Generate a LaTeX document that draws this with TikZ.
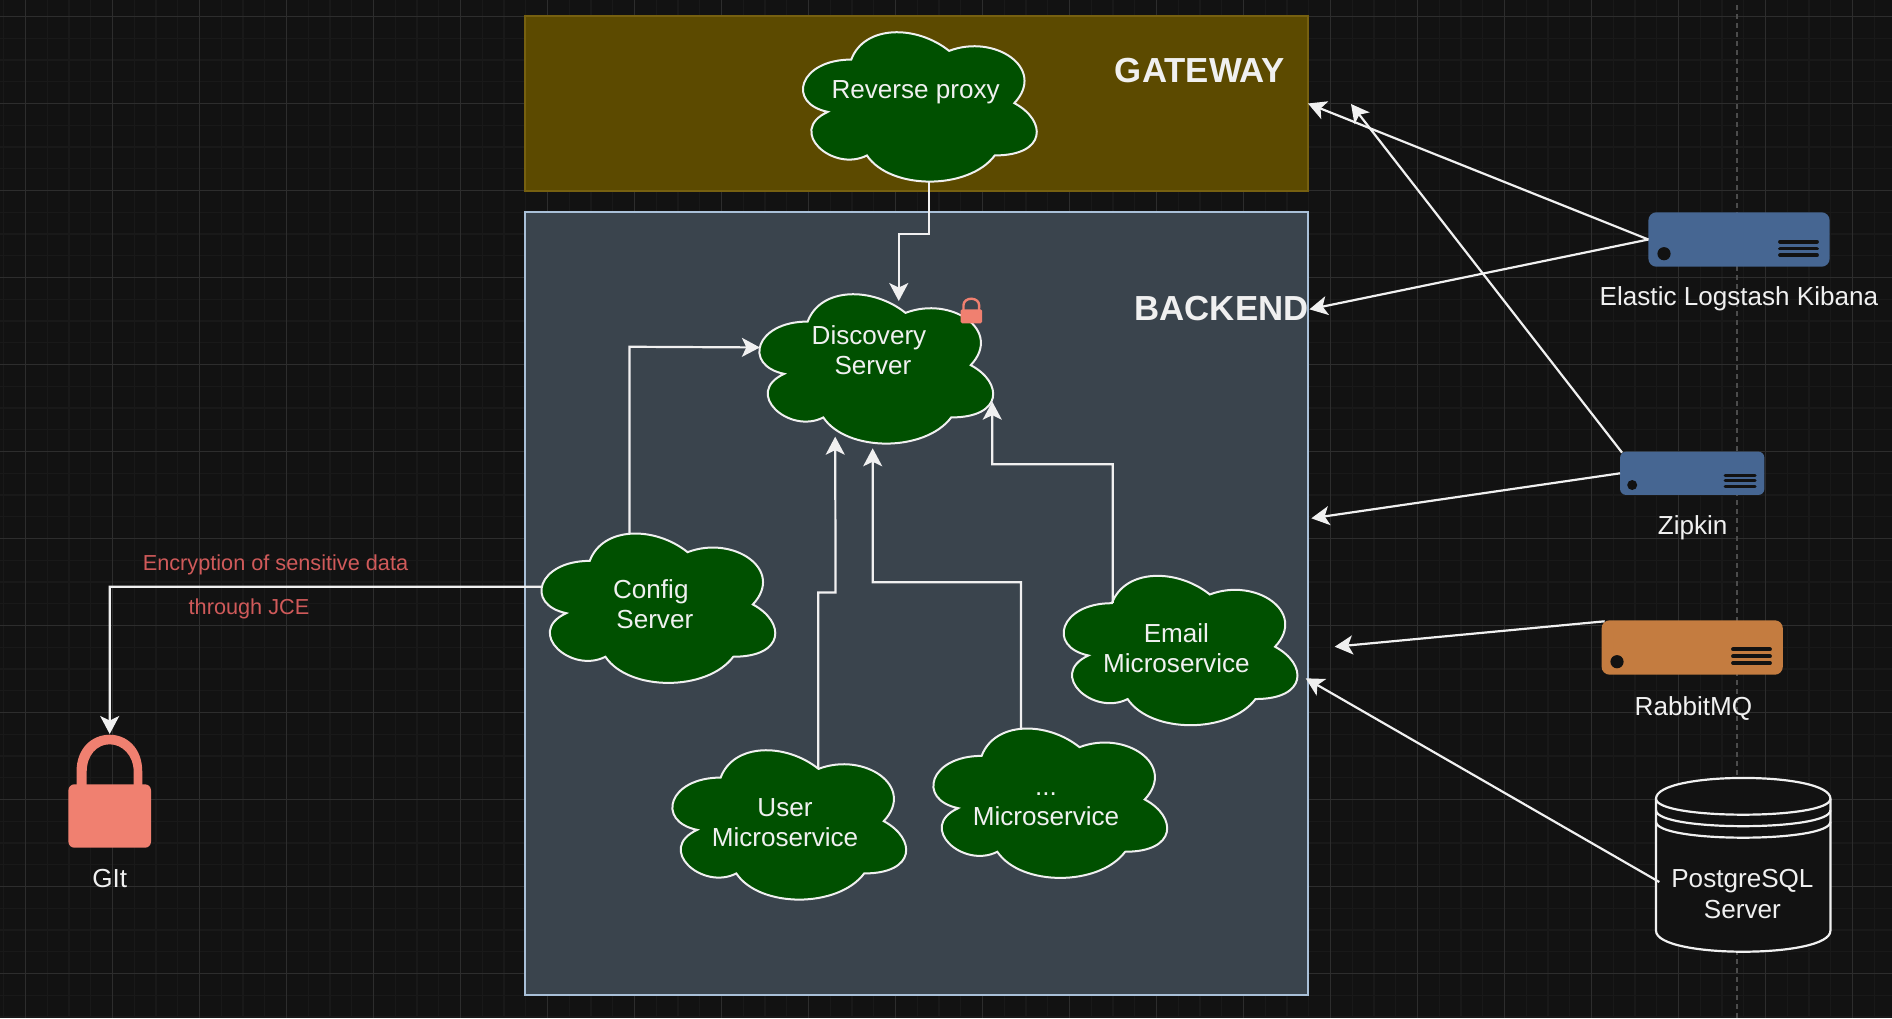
\documentclass[tikz,border=0pt]{standalone}
\usepackage{fontspec}
\setmainfont{Liberation Sans}
\usetikzlibrary{arrows.meta,calc}
\definecolor{bgc}{HTML}{121212}
\definecolor{gridmaj}{HTML}{2D2D2D}
\definecolor{gridmin}{HTML}{191919}
\definecolor{dashc}{HTML}{4C4C4C}
\definecolor{gwfill}{HTML}{5C4A00}
\definecolor{gwline}{HTML}{766010}
\definecolor{befill}{HTML}{3A444D}
\definecolor{beline}{HTML}{A9C0D8}
\definecolor{cloudfill}{HTML}{005000}
\definecolor{txt}{HTML}{F0F0F0}
\definecolor{srvblue}{HTML}{466692}
\definecolor{srvorange}{HTML}{C47C40}
\definecolor{lockc}{HTML}{F08070}
\definecolor{redtxt}{HTML}{D05A5A}
\tikzset{
  x=1pt,y=-1pt,
  every node/.style={inner sep=0pt,outer sep=0pt},
  zone/.style={draw,line width=2pt,minimum width=783pt},
  cloudshape/.style={fill=cloudfill,draw=txt,line width=2pt},
  cloudbox/.style={minimum width=261pt,minimum height=174pt},
  lbl/.style={text=txt,font=\fontsize{26.1pt}{30.2pt}\selectfont,align=center},
  zonelbl/.style={text=txt,font=\fontsize{34.8pt}{40pt}\selectfont\bfseries},
  redlbl/.style={text=redtxt,font=\fontsize{21.7pt}{26pt}\selectfont},
  conn/.style={draw=txt,line width=2.2pt,-{Stealth[length=18pt,width=19pt,inset=4.5pt]}},
  srv/.style={rounded corners=8pt},
  bars/.style={draw=bgc,line cap=round},
  dbline/.style={draw=txt,line width=2.2pt}
}
\newcommand{\cloudat}[6]{% name, x0, y0, text x, text y, text
  \begin{scope}[shift={(#2,#3)},xscale=.996,yscale=.996]
    \path[cloudshape] (65.5,43.75)
      .. controls (13.1,43.75) and (0,87.5) .. (41.92,96.25)
      .. controls (0,115.5) and (47.16,157.5) .. (81.22,140)
      .. controls (104.8,175) and (183.4,175) .. (209.6,140)
      .. controls (262,140) and (262,105) .. (229.25,87.5)
      .. controls (262,52.5) and (209.6,17.5) .. (163.75,35)
      .. controls (131,8.75) and (78.6,8.75) .. (65.5,43.75) -- cycle;
    \node[cloudbox] (#1) at (131,87.5) {};
  \end{scope}
  \node[lbl] (#1t) at (#4,#5) {#6};
}
\begin{document}
\begin{tikzpicture}
\useasboundingbox (0,0) rectangle (1892,1018);
\begin{scope}
\clip (0,0) rectangle (1892,1018);
\fill[bgc] (0,0) rectangle (1892,1018);
\foreach \k in {0,...,87} {
  \draw[gridmin,line width=1.4pt] ({3.75+21.75*\k},0) -- ({3.75+21.75*\k},1018);
}
\foreach \k in {0,...,47} {
  \draw[gridmin,line width=1.4pt] (0,{-5.25+21.75*\k}) -- (1892,{-5.25+21.75*\k});
}
\foreach \k in {0,...,21} {
  \draw[gridmaj,line width=1pt] ({25.5+87*\k},0) -- ({25.5+87*\k},1018);
}
\foreach \k in {0,...,11} {
  \draw[gridmaj,line width=1pt] (0,{16.5+87*\k}) -- (1892,{16.5+87*\k});
}
\draw[dashc,line width=1.2pt,dash pattern=on 5pt off 4pt] (1737,5) -- (1737,1018);
\end{scope}

% zones
\node[zone,fill=gwfill,draw=gwline,minimum height=175pt] (gw) at (916.5,103.5) {};
\node[zone,fill=befill,draw=beline,minimum height=783pt] (be) at (916.5,603.5) {};
\node[zonelbl] (gwl) at (1200,70.5) {GATEWAY};
\node[zonelbl] (bel) at (1221.5,309) {BACKEND};

% clouds
\cloudat{rev}{786}{16}{915.7}{92}{Reverse proxy}
\cloudat{disc}{742.4}{278}{873}{350}{Discovery\kern8pt\hbox{}\\Server}
\cloudat{conf}{524.5}{517.3}{654.8}{604.5}{Config\kern8pt\hbox{}\\Server}
\cloudat{user}{655.4}{734}{785}{822.5}{User\\Microservice}
\cloudat{dots}{916.4}{712.3}{1046}{809.5}{...\\Microservice}
\cloudat{email}{1046.7}{559.6}{1176.4}{648.5}{Email\\Microservice}

% small lock on the discovery server
\node[fill=lockc,rounded corners=1.5pt,minimum width=21.5pt,minimum height=14pt] (slock) at (971.3,316.3) {};
\draw[lockc,line width=2.4pt] (963.5,310) -- (963.5,305) arc[start angle=180,end angle=0,x radius=7.8pt,y radius=6.3pt] -- (979,310);

% big lock
\node[fill=lockc,rounded corners=6pt,minimum width=82.6pt,minimum height=63.4pt] (git) at (109.7,816) {};
\fill[lockc,even odd rule] (76.5,786) -- (76.5,772) .. controls (76.5,747) and (93,734.7) .. (109.7,734.7) .. controls (126,734.7) and (142.3,747) .. (142.3,772) -- (142.3,786) -- (133.7,786) -- (133.7,772) .. controls (133.7,755) and (122,744.3) .. (109.7,744.3) .. controls (97,744.3) and (86.7,755) .. (86.7,772) -- (86.7,786) -- cycle;
\node[lbl] (gitl) at (109.7,878.5) {GIt};

% servers
\node[srv,fill=srvblue,minimum width=181.2pt,minimum height=54.4pt] (elk) at (1739,239.5) {};
\fill[bgc] (1664,253.7) circle[radius=6.6pt];
\foreach \yy in {241.7,248.5,255.2} \draw[bars,line width=3.8pt] (1780,\yy) -- (1817,\yy);
\node[lbl] (elkl) at (1739,299) {Elastic Logstash Kibana};

\node[srv,rounded corners=6pt,fill=srvblue,minimum width=144.3pt,minimum height=43.3pt] (zip) at (1692.2,473.3) {};
\fill[bgc] (1632.2,485) circle[radius=5pt];
\foreach \yy in {475,480.3,486} \draw[bars,line width=3pt] (1725,\yy) -- (1755,\yy);
\node[lbl] (zipl) at (1692.6,527.5) {Zipkin};

\node[srv,fill=srvorange,minimum width=181.2pt,minimum height=54.4pt] (mq) at (1692.2,647.5) {};
\fill[bgc] (1617,661.7) circle[radius=6.6pt];
\foreach \yy in {649.3,656.3,663} \draw[bars,line width=3.8pt] (1733,\yy) -- (1770,\yy);
\node[lbl] (mql) at (1693.4,708.5) {RabbitMQ};

% database
\path[dbline,fill=bgc] (1656,798.7) .. controls (1656,771) and (1830.4,771) .. (1830.4,798.7)
  -- (1830.4,930.7) .. controls (1830.4,958.7) and (1656,958.7) .. (1656,930.7) -- cycle;
\draw[dbline] (1656,798.7) .. controls (1656,820) and (1830.4,820) .. (1830.4,798.7);
\draw[dbline] (1656,810.2) .. controls (1656,831.5) and (1830.4,831.5) .. (1830.4,810.2);
\draw[dbline] (1656,821.7) .. controls (1656,843) and (1830.4,843) .. (1830.4,821.7);
\node[lbl] (pg) at (1742.4,894) {PostgreSQL\\Server};

% red labels
\node[redlbl] (enc) at (275.5,564.5) {Encryption of sensitive data};
\node[redlbl] (jce) at (249,609) {through JCE};

% connectors
\draw[conn] ($(rev.center)+(12.9,78.4)$) -- ++(0,52.3) -- ++(-30.6,0) -- ($(disc.center)+(25.9,-64.1)$);
\draw[conn] ($(conf.center)+(-25.5,-71.7)$) -- ++(0,-186) -- ($(disc.center)+(-113,-17.7)$);
\draw[conn] ($(user.center)+(32.3,-53.2)$) -- ++(0,-175.4) -- ++(17.4,0) -- ($(disc.center)+(-37.7,71.5)$);
\draw[conn] ($(dots.center)+(-25.9,-71.5)$) -- ++(0,-145.7) -- ++(-148.2,0) -- ($(disc.center)+(-0.2,83.1)$);
\draw[conn] ($(email.center)+(-64.5,-43.8)$) -- ++(0,-138.7) -- ++(-120.4,0) -- ($(disc.center)+(119.4,36.5)$);
\draw[conn] ($(conf.center)+(-114.2,-17.7)$) -- ++(-431,0) -- (git.north |- 0,734);
\draw[conn] (elk.west) -- (gw.east);
\draw[conn] (elk.west) -- ($(be.east)+(1.4,-294.2)$);
\coordinate (zipgw) at (1351,104);
\draw[conn] ($(zip.north west)+(2,1)$) -- (zipgw);
\draw[conn] (zip.west) -- ($(be.east)+(3.3,-85.2)$);
\coordinate (mqend) at (1334.7,646.7);
\draw[conn] ($(mq.north west)+(3,1)$) -- (mqend);
\draw[conn] ($(pg.west)+(-12,-12)$) -- ($(be.east)+(-2.3,74.8)$);
\end{tikzpicture}
\end{document}
